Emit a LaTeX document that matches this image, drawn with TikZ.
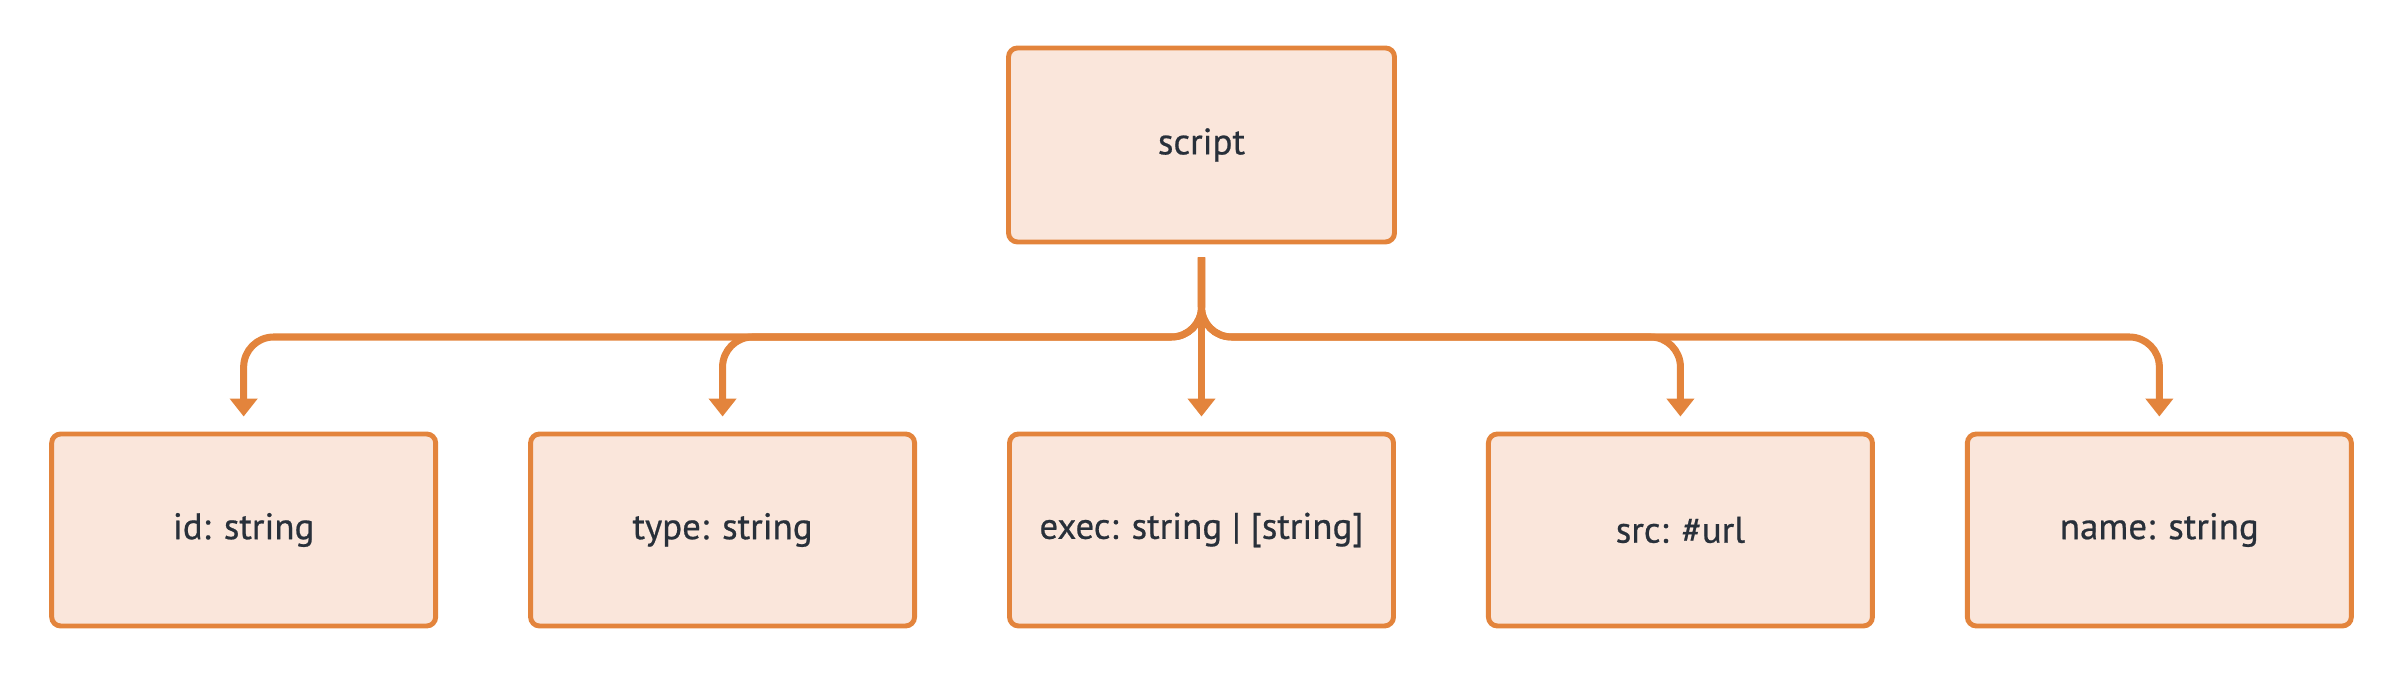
\documentclass[tikz,border=0pt]{standalone}
\usepackage{fontspec}
\setmainfont{PT Sans}
\newfontfamily\labelfont{PT Sans}[FakeBold=0.6]
\usepackage{tikz}
\usetikzlibrary{arrows.meta,positioning}
\definecolor{scorange}{RGB}{227,132,60}
\definecolor{scfill}{RGB}{250,230,219}
\definecolor{sctext}{RGB}{40,48,58}
\tikzstyle{field} = [rectangle, rounded corners=0.9mm, minimum width=3.84cm, minimum height=1.92cm, text centered, draw=scorange, fill=scfill, line width=1.4pt, text=sctext, font=\labelfont\fontsize{10.5}{13}\selectfont]
\tikzstyle{link} = [line width=2pt, draw=scorange, rounded corners=3mm, -{Triangle[width=2.7mm,length=1.8mm]}]

\begin{document}
\begin{tikzpicture}
\useasboundingbox (0,0) rectangle (24.04,6.76);
% root
\node[field, minimum width=3.86cm, minimum height=1.94cm] (script) at (12.015,5.31) {script};

% attributes
\node[field] (exec) at (12.015,1.46) {exec: string | [string]};
\node[field, left=0.9cm of exec] (type) {type: string};
\node[field, left=0.9cm of type] (id) {id: string};
\node[field, right=0.9cm of exec] (src) {src: \#url};
\node[field, right=0.9cm of src] (name) {name: string};

% branches
\coordinate (bus) at (0,3.39);
\foreach \child in {id,type,src,name}
  \draw[link] ([yshift=-1.3mm]script.south) -- (script.south |- bus) -| ([yshift=1.5mm]\child.north);
\draw[link] ([yshift=-1.3mm]script.south) -- ([yshift=1.5mm]exec.north);
\end{tikzpicture}
\end{document}
